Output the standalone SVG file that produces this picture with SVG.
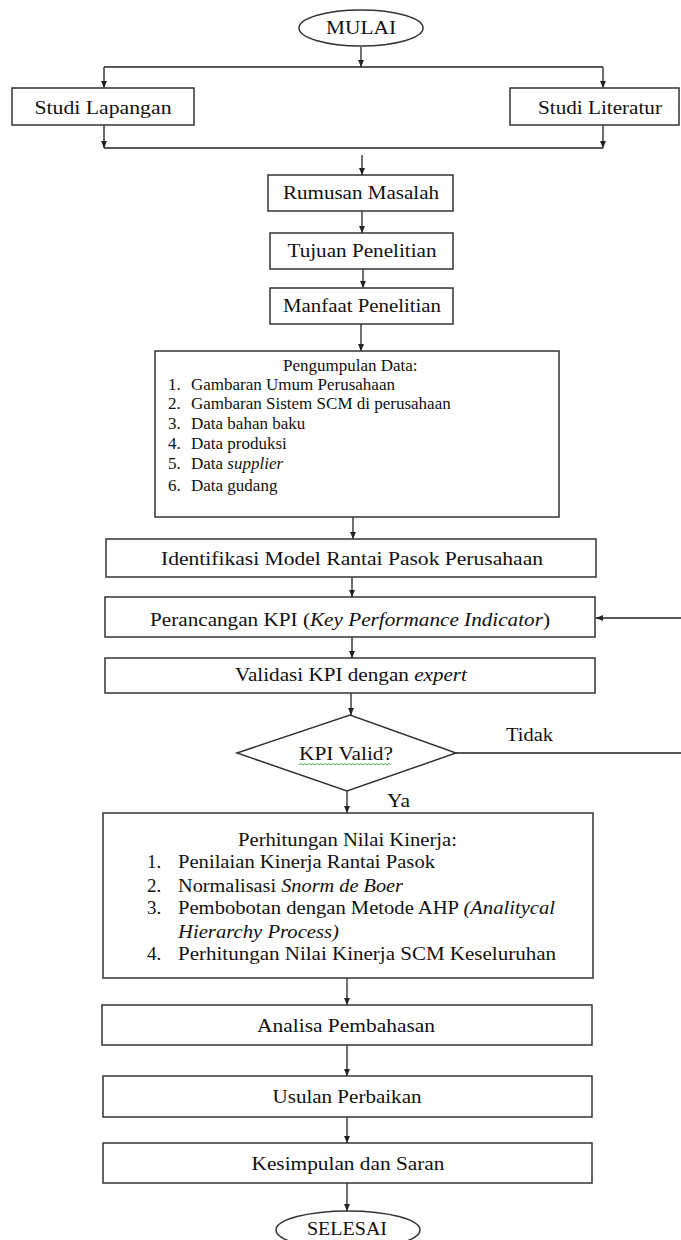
<svg xmlns="http://www.w3.org/2000/svg" width="681" height="1240" viewBox="0 0 681 1240">
<defs>
<marker id="ah" markerUnits="userSpaceOnUse" markerWidth="8" markerHeight="7" refX="7" refY="3" orient="auto">
<path d="M0,0 L7,3 L0,6 z" fill="#222"/>
</marker>
<style>
.box{fill:#fff;stroke:#333;stroke-width:1.5}
.ln{fill:none;stroke:#222;stroke-width:1.3}
.t{font-family:"Liberation Serif","Times New Roman",serif;font-size:19px;fill:#111}
.tc{text-anchor:middle}
.s{font-family:"Liberation Serif","Times New Roman",serif;font-size:17px;fill:#111}
.i{font-style:italic}
</style>
</defs>
<rect width="681" height="1240" fill="#fff"/>

<g id="connectors">
<path class="ln" d="M361,47 V67" marker-end="url(#ah)"/>
<path class="ln" d="M104,67 H603"/>
<path class="ln" d="M104,67 V88" marker-end="url(#ah)"/>
<path class="ln" d="M603,67 V88" marker-end="url(#ah)"/>
<path class="ln" d="M104,125 V148" marker-end="url(#ah)"/>
<path class="ln" d="M603,125 V148" marker-end="url(#ah)"/>
<path class="ln" d="M104,148 H603"/>
<path class="ln" d="M362,155 V175" marker-end="url(#ah)"/>
<path class="ln" d="M362,211 V233" marker-end="url(#ah)"/>
<path class="ln" d="M363,269 V288" marker-end="url(#ah)"/>
<path class="ln" d="M361,324 V351" marker-end="url(#ah)"/>
<path class="ln" d="M353,517 V539" marker-end="url(#ah)"/>
<path class="ln" d="M352,577 V597" marker-end="url(#ah)"/>
<path class="ln" d="M352,637 V658" marker-end="url(#ah)"/>
<path class="ln" d="M351,693 V715" marker-end="url(#ah)"/>
<path class="ln" d="M456,753 H684 V618 H596" marker-end="url(#ah)"/>
<path class="ln" d="M347,791 V813" marker-end="url(#ah)"/>
<path class="ln" d="M347,978 V1005" marker-end="url(#ah)"/>
<path class="ln" d="M347,1045 V1076" marker-end="url(#ah)"/>
<path class="ln" d="M347,1117 V1143" marker-end="url(#ah)"/>
<path class="ln" d="M347,1183 V1211" marker-end="url(#ah)"/>
<text class="t" x="506" y="741" textLength="47" lengthAdjust="spacingAndGlyphs">Tidak</text>
<text class="t" x="387" y="807" textLength="23" lengthAdjust="spacingAndGlyphs">Ya</text>
</g>

<g id="mulai">
<ellipse class="box" cx="361" cy="28" rx="62" ry="18"/>
<text class="t tc" x="361" y="34" textLength="70" lengthAdjust="spacingAndGlyphs">MULAI</text>
</g>

<g id="studi-lapangan">
<rect class="box" x="12" y="88" width="182" height="37"/>
<text class="t tc" x="103" y="114" textLength="137" lengthAdjust="spacingAndGlyphs">Studi Lapangan</text>
</g>

<g id="studi-literatur">
<rect class="box" x="510" y="88" width="169" height="37"/>
<text class="t tc" x="600" y="114" textLength="124" lengthAdjust="spacingAndGlyphs">Studi Literatur</text>
</g>

<g id="rumusan">
<rect class="box" x="268" y="175" width="185" height="36"/>
<text class="t tc" x="361" y="199" textLength="156" lengthAdjust="spacingAndGlyphs">Rumusan Masalah</text>
</g>

<g id="tujuan">
<rect class="box" x="270" y="233" width="183" height="36"/>
<text class="t tc" x="362" y="257" textLength="149" lengthAdjust="spacingAndGlyphs">Tujuan Penelitian</text>
</g>

<g id="manfaat">
<rect class="box" x="270" y="288" width="183" height="36"/>
<text class="t tc" x="362" y="312" textLength="158" lengthAdjust="spacingAndGlyphs">Manfaat Penelitian</text>
</g>

<g id="pengumpulan">
<rect class="box" x="155" y="351" width="404" height="166"/>
<text class="s" x="283" y="371">Pengumpulan Data:</text>
<text class="s" x="168" y="390">1.</text><text class="s" x="191" y="390">Gambaran Umum Perusahaan</text>
<text class="s" x="168" y="409">2.</text><text class="s" x="191" y="409">Gambaran Sistem SCM di perusahaan</text>
<text class="s" x="168" y="429">3.</text><text class="s" x="191" y="429">Data bahan baku</text>
<text class="s" x="168" y="449">4.</text><text class="s" x="191" y="449">Data produksi</text>
<text class="s" x="168" y="469">5.</text><text class="s" x="191" y="469">Data <tspan class="i">supplier</tspan></text>
<text class="s" x="168" y="491">6.</text><text class="s" x="191" y="491">Data gudang</text>
</g>

<g id="identifikasi">
<rect class="box" x="106" y="539" width="490" height="38"/>
<text class="t tc" x="352" y="565" textLength="382" lengthAdjust="spacingAndGlyphs">Identifikasi Model Rantai Pasok Perusahaan</text>
</g>

<g id="perancangan">
<rect class="box" x="105" y="597" width="490" height="40"/>
<text class="t" x="150" y="626" textLength="400" lengthAdjust="spacingAndGlyphs">Perancangan KPI (<tspan class="i">Key Performance Indicator</tspan>)</text>
</g>

<g id="validasi">
<rect class="box" x="105" y="658" width="490" height="35"/>
<text class="t" x="235" y="681" textLength="232" lengthAdjust="spacingAndGlyphs">Validasi KPI dengan <tspan class="i">expert</tspan></text>
</g>

<g id="kpi-valid">
<polygon class="box" points="237,753 350,715 456,753 347,791"/>
<text class="t" x="299" y="760" textLength="94" lengthAdjust="spacingAndGlyphs">KPI Valid?</text>
<path d="M299,765 l2,-1.5 l2,1.5 l2,-1.5 l2,1.5 l2,-1.5 l2,1.5 l2,-1.5 l2,1.5 l2,-1.5 l2,1.5 l2,-1.5 l2,1.5 l2,-1.5 l2,1.5 l2,-1.5 l2,1.5 l2,-1.5 l2,1.5 l2,-1.5 l2,1.5 l2,-1.5 l2,1.5 l2,-1.5 l2,1.5 l2,-1.5 l2,1.5 l2,-1.5 l2,1.5 l2,-1.5 l2,1.5 l2,-1.5 l2,1.5 l2,-1.5 l2,1.5 l2,-1.5 l2,1.5 l2,-1.5 l2,1.5 l2,-1.5 l2,1.5 l2,-1.5 l2,1.5 l2,-1.5 l2,1.5 l2,-1.5 l2,1.5" fill="none" stroke="#4caf50" stroke-width="1"/>
</g>

<g id="perhitungan">
<rect class="box" x="103" y="813" width="490" height="165"/>
<text class="t" x="238" y="846" textLength="219" lengthAdjust="spacingAndGlyphs">Perhitungan Nilai Kinerja:</text>
<text class="t" x="147" y="868">1.</text><text class="t" x="178" y="868" textLength="257" lengthAdjust="spacingAndGlyphs">Penilaian Kinerja Rantai Pasok</text>
<text class="t" x="147" y="892">2.</text><text class="t" x="178" y="892" textLength="225" lengthAdjust="spacingAndGlyphs">Normalisasi <tspan class="i">Snorm de Boer</tspan></text>
<text class="t" x="147" y="914">3.</text><text class="t" x="178" y="914" textLength="377" lengthAdjust="spacingAndGlyphs">Pembobotan dengan Metode AHP <tspan class="i">(Analitycal</tspan></text>
<text class="t i" x="178" y="938" textLength="161" lengthAdjust="spacingAndGlyphs">Hierarchy Process)</text>
<text class="t" x="147" y="960">4.</text><text class="t" x="178" y="960" textLength="378" lengthAdjust="spacingAndGlyphs">Perhitungan Nilai Kinerja SCM Keseluruhan</text>
</g>

<g id="analisa">
<rect class="box" x="102" y="1005" width="490" height="40"/>
<text class="t tc" x="346" y="1032" textLength="178" lengthAdjust="spacingAndGlyphs">Analisa Pembahasan</text>
</g>

<g id="usulan">
<rect class="box" x="103" y="1076" width="489" height="41"/>
<text class="t tc" x="347" y="1103" textLength="149" lengthAdjust="spacingAndGlyphs">Usulan Perbaikan</text>
</g>

<g id="kesimpulan">
<rect class="box" x="103" y="1143" width="489" height="40"/>
<text class="t tc" x="348" y="1170" textLength="193" lengthAdjust="spacingAndGlyphs">Kesimpulan dan Saran</text>
</g>

<g id="selesai">
<ellipse class="box" cx="348" cy="1230" rx="72" ry="19"/>
<text class="t tc" x="347" y="1235" textLength="80" lengthAdjust="spacingAndGlyphs">SELESAI</text>
</g>
</svg>
